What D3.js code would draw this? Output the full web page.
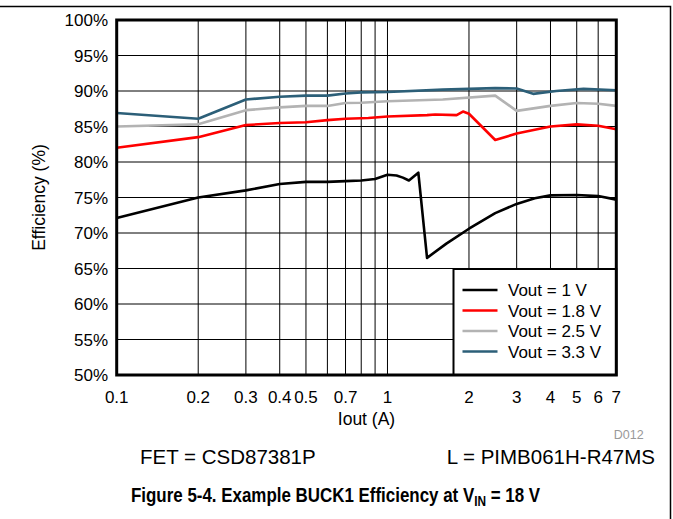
<!DOCTYPE html>
<html><head><meta charset="utf-8">
<script src="https://cdn.jsdelivr.net/npm/d3@7"></script>
<style>
html,body{margin:0;padding:0;background:#fff;}
svg{display:block;font-family:"Liberation Sans",Arial,sans-serif;}
</style></head>
<body><svg id="c" width="673" height="519"></svg>
<script>
// ---- data ----
const seriesNames = ["Vout = 1 V","Vout = 1.8 V","Vout = 2.5 V","Vout = 3.3 V"];
const seriesColors = ["#000000","#ff0000","#b3b3b3","#2c5f78"];
const vout1 = [[0.1,72.1],[0.2,75.0],[0.3,76.0],[0.4,76.9],[0.5,77.2],[0.6,77.2],[0.7,77.3],[0.8,77.4],[0.9,77.6],[1.0,78.2],[1.08,78.1],[1.14,77.8],[1.2,77.4],[1.3,78.5],[1.4,66.5],[1.65,68.5],[2.0,70.6],[2.5,72.8],[3.0,74.1],[3.5,74.9],[4,75.3],[5,75.35],[6,75.2],[7,74.7]];
const vout18 = [[0.1,82.0],[0.2,83.5],[0.3,85.2],[0.4,85.5],[0.5,85.6],[0.6,85.9],[0.7,86.1],[0.85,86.2],[1.0,86.4],[1.4,86.6],[1.5,86.7],[1.8,86.6],[1.9,87.1],[2.0,86.8],[2.5,83.1],[3,84.0],[4,85.0],[5,85.3],[6,85.1],[7,84.6]];
const vout25 = [[0.1,85.0],[0.2,85.3],[0.3,87.3],[0.4,87.7],[0.5,87.9],[0.6,87.9],[0.7,88.3],[0.8,88.35],[1.0,88.55],[1.6,88.8],[2.5,89.35],[3,87.2],[4,87.9],[5,88.3],[6,88.2],[7,87.9]];
const vout33 = [[0.1,86.9],[0.2,86.1],[0.3,88.8],[0.4,89.2],[0.5,89.35],[0.6,89.35],[0.7,89.65],[0.8,89.8],[1.0,89.85],[1.6,90.2],[2.5,90.4],[3,90.35],[3.45,89.6],[4.2,90.0],[5.3,90.3],[7,90.1]];
const allSeries = [vout1, vout18, vout25, vout33];
const xTickLabels = [0.1,0.2,0.3,0.4,0.5,0.7,1,2,3,4,5,6,7];
const xGrid = [0.2,0.3,0.4,0.5,0.6,0.7,0.8,0.9,1,2,3,4,5,6];
const yTicks = [50,55,60,65,70,75,80,85,90,95,100];

// ---- layout ----
const L = 116.7, R = 616.3, T = 20, B = 375;
const svg = d3.select("#c");
const x = d3.scaleLog().domain([0.1,7]).range([L,R]);
const y = d3.scaleLinear().domain([50,100]).range([B,T]);

// outer figure frame (top and right)
svg.append("path").attr("d",`M0,6.5H670.5V519`).attr("fill","none").attr("stroke","#000").attr("stroke-width",1.5);

// grid
const g = svg.append("g");
g.selectAll("line.v").data(xGrid).join("line")
  .attr("x1",d=>x(d)).attr("x2",d=>x(d)).attr("y1",T).attr("y2",B)
  .attr("stroke","#000").attr("stroke-width",1);
g.selectAll("line.h").data(yTicks.slice(1,-1)).join("line")
  .attr("y1",d=>y(d)).attr("y2",d=>y(d)).attr("x1",L).attr("x2",R)
  .attr("stroke","#000").attr("stroke-width",1);

// series
svg.append("clipPath").attr("id","clip").append("rect").attr("x",L).attr("y",T).attr("width",R-L).attr("height",B-T);
const line = d3.line().x(d=>x(d[0])).y(d=>y(d[1]));
svg.append("g").attr("clip-path","url(#clip)").selectAll("path").data(allSeries).join("path")
  .attr("d",line).attr("fill","none").attr("stroke",(d,i)=>seriesColors[i])
  .attr("stroke-width",2.6).attr("stroke-linejoin","round");

// legend
const lg = svg.append("g");
lg.append("rect").attr("x",453.5).attr("y",269).attr("width",R-453.5).attr("height",B-269)
  .attr("fill","#fff").attr("stroke","#000").attr("stroke-width",2);
seriesNames.forEach((n,i)=>{
  const yy = 290 + i*20.5;
  lg.append("line").attr("x1",462.5).attr("x2",497.5).attr("y1",yy).attr("y2",yy)
    .attr("stroke",seriesColors[i]).attr("stroke-width",2.6);
  lg.append("text").attr("x",508).attr("y",yy).attr("dy","0.36em")
    .attr("font-size",17).text(n);
});

// plot frame
svg.append("rect").attr("x",L).attr("y",T).attr("width",R-L).attr("height",B-T)
  .attr("fill","none").attr("stroke","#000").attr("stroke-width",3);

// y tick labels
svg.append("g").selectAll("text").data(yTicks).join("text")
  .attr("x",108).attr("y",d=>y(d)).attr("dy","0.36em").attr("text-anchor","end")
  .attr("font-size",17).text(d=>d+"%");
// x tick labels
svg.append("g").selectAll("text").data(xTickLabels).join("text")
  .attr("x",d=>x(d)).attr("y",403).attr("text-anchor","middle")
  .attr("font-size",17).text(d=>String(d));

// axis titles
svg.append("text").attr("transform",`translate(44.5,${(T+B)/2}) rotate(-90)`)
  .attr("text-anchor","middle").attr("font-size",17.5).text("Efficiency (%)");
svg.append("text").attr("x",(L+R)/2).attr("y",425).attr("text-anchor","middle")
  .attr("font-size",17.5).text("Iout (A)");
svg.append("text").attr("x",643.6).attr("y",439).attr("text-anchor","end")
  .attr("font-size",12.5).attr("fill","#999").text("D012");

// notes
svg.append("text").attr("x",140).attr("y",464).attr("font-size",20.5).text("FET = CSD87381P");
svg.append("text").attr("x",655).attr("y",464).attr("font-size",20.5).attr("text-anchor","end").text("L = PIMB061H-R47MS");

// caption (condensed bold, scaled to fit the reference width)
const capG = svg.append("g");
const cap = capG.append("text").attr("x",0).attr("y",0).attr("font-size",20).attr("font-weight","bold");
cap.append("tspan").text("Figure 5-4. Example BUCK1 Efficiency at V");
cap.append("tspan").attr("font-size",14).attr("dy",4).text("IN");
cap.append("tspan").attr("dy",-4).text(" = 18 V");
const w = cap.node().getBBox().width;
capG.attr("transform",`translate(131,502) scale(${410/w},1)`);
</script>
</body></html>
